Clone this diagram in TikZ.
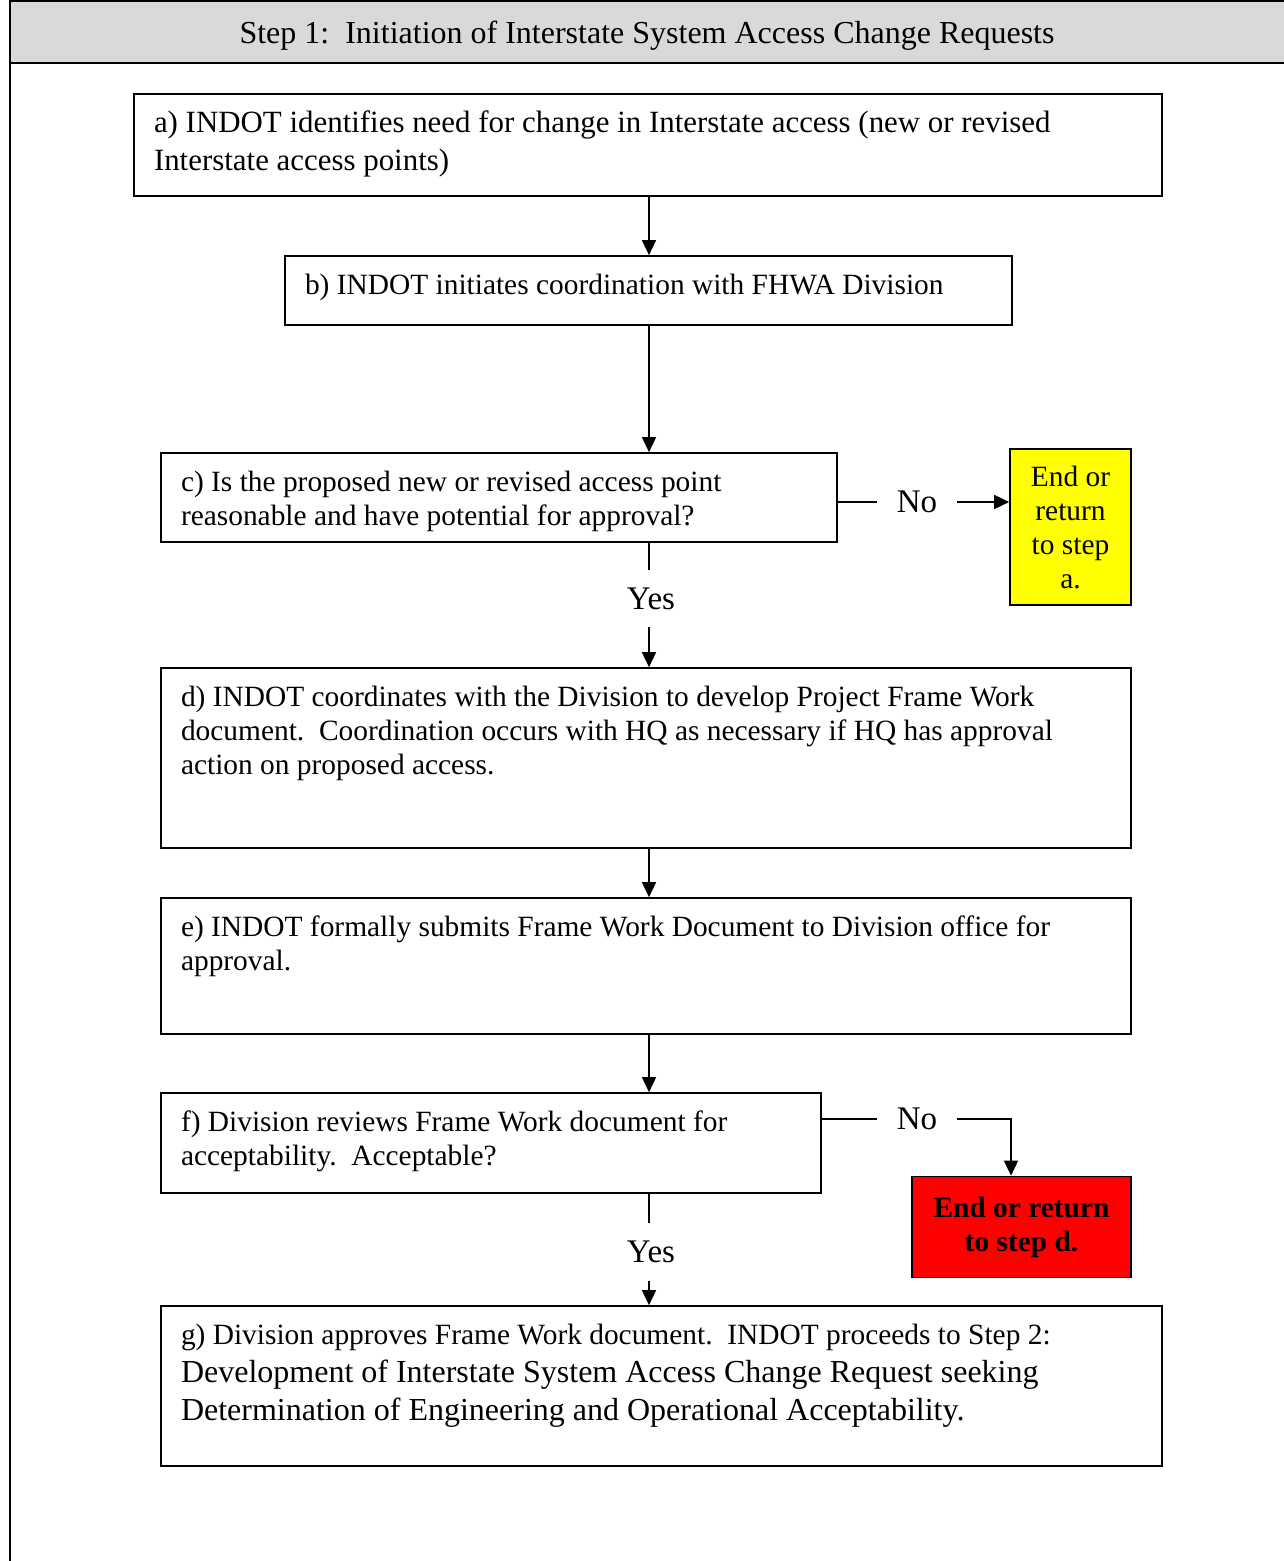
\documentclass[tikz,border=0pt]{standalone}
\usepackage{fontspec}
\setmainfont{Liberation Serif}
\usetikzlibrary{arrows.meta}
\definecolor{hdrgray}{HTML}{D9D9D9}
\definecolor{ylw}{HTML}{FFFF00}
\definecolor{rd}{HTML}{FF0000}
\newcommand{\bxtext}[3]{\parbox[c][#2pt][t]{#1pt}{\raggedright\strut #3}}
\tikzset{
  flowbox/.style={draw, line width=1.7pt, inner xsep=20pt, inner ysep=15pt, font=\fontsize{29.4}{34}\selectfont},
  lbl/.style={inner sep=0pt, font=\fontsize{33}{38}\selectfont},
  conn/.style={line width=1.7pt},
  arr/.style={line width=1.7pt, -{Triangle[length=15pt,width=14pt]}},
}
\begin{document}
\begin{tikzpicture}[x=1pt,y=-1pt]
\useasboundingbox (0,0) rectangle (1283,1561);
% frame and header
\draw[line width=2pt, fill=hdrgray] (10,1) rectangle (1290,63);
\draw[line width=2pt] (10,63) -- (10,1565);
\node[lbl, font=\fontsize{32}{38}\selectfont] (hdr) at (647,36) {Step 1:\ \ Initiation of Interstate System Access Change Requests};
% boxes
\node[flowbox] (a) at (648,145) {\bxtext{988}{72}{\fontsize{30.9}{38}\selectfont a) INDOT identifies need for change in Interstate access (new or revised\\ Interstate access points)}};
\node[flowbox] (b) at (648.5,290.5) {\bxtext{687}{39}{b) INDOT initiates coordination with FHWA Division}};
\node[flowbox] (c) at (499,497.5) {\bxtext{636}{59}{c) Is the proposed new or revised access point\\ reasonable and have potential for approval?}};
\node[flowbox] (d) at (646,758) {\bxtext{930}{150}{d) INDOT coordinates with the Division to develop Project Frame Work\\ document.\ \ Coordination occurs with HQ as necessary if HQ has approval\\ action on proposed access.}};
\node[flowbox] (e) at (646,966) {\bxtext{930}{106}{e) INDOT formally submits Frame Work Document to Division office for\\ approval.}};
\node[flowbox] (f) at (491,1143) {\bxtext{620}{70}{f) Division reviews Frame Work document for\\ acceptability.\ \ Acceptable?}};
\node[flowbox] (g) at (661.5,1386) {\bxtext{961}{130}{g) Division approves Frame Work document.\ \ INDOT proceeds to Step 2:\par {\fontsize{32}{38}\selectfont Development of Interstate System Access Change Request seeking\\ Determination of Engineering and Operational Acceptability.\par}}};
\node[draw, line width=1.7pt, fill=ylw, minimum width=121pt, minimum height=156pt, inner sep=0pt, align=center, font=\fontsize{29.4}{34}\selectfont] (ya) at (1070.5,527) {End or\\ return\\ to step\\ a.};
\node[draw, line width=1.7pt, fill=rd, minimum width=219pt, minimum height=101pt, inner sep=0pt, align=center, font=\fontsize{29.4}{34}\selectfont\bfseries] (rdd) at (1021.5,1227) {End or return\\ to step d.};
% labels
\node[lbl, minimum width=80pt] (noc) at (917,502) {No};
\node[lbl, minimum height=57pt] (yesc) at (651,598.5) {Yes};
\node[lbl, minimum width=80pt] (nof) at (917,1119) {No};
\node[lbl, minimum height=58pt] (yesf) at (651,1252) {Yes};
\coordinate (col) at (649,0);
\coordinate (nofturn) at (1011,1119);
% connectors
\draw[arr] (a.south -| col) -- (b.north -| col);
\draw[arr] (b.south -| col) -- (c.north -| col);
\draw[conn] (c.east |- noc) -- (noc.west);
\draw[arr] (noc.east) -- (ya.west |- noc);
\draw[conn] (c.south -| col) -- (yesc.north -| col);
\draw[arr] (yesc.south -| col) -- (d.north -| col);
\draw[arr] (d.south -| col) -- (e.north -| col);
\draw[arr] (e.south -| col) -- (f.north -| col);
\draw[conn] (f.east |- nof) -- (nof.west);
\draw[arr] (nof.east) -- (nofturn) -- (rdd.north -| nofturn);
\draw[conn] (f.south -| col) -- (yesf.north -| col);
\draw[arr] (yesf.south -| col) -- (g.north -| col);
\end{tikzpicture}
\end{document}
